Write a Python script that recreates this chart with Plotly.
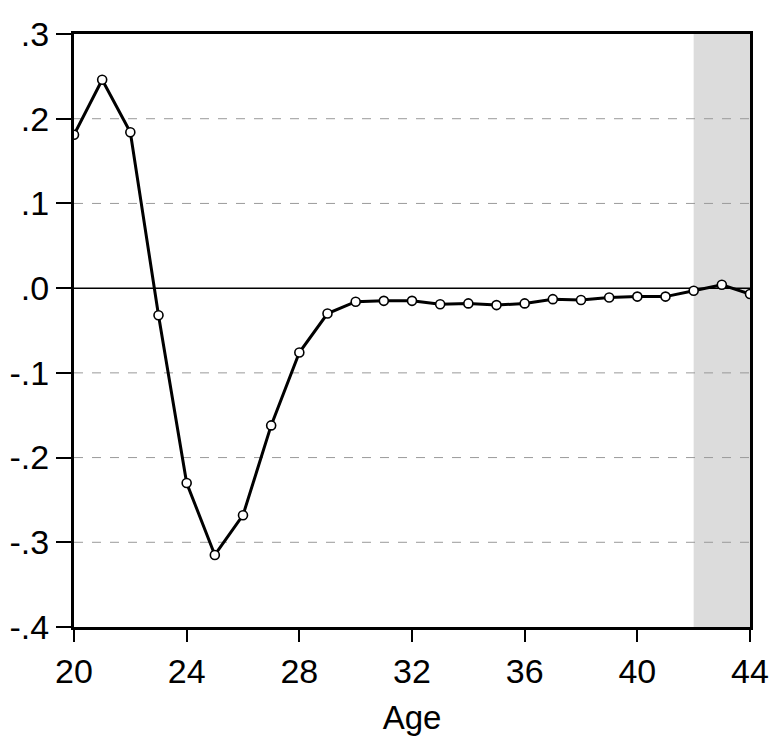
import plotly.graph_objects as go

ages = list(range(20, 45))
values = [0.181, 0.246, 0.184, -0.032, -0.230, -0.315, -0.268, -0.162, -0.076, -0.030,
          -0.016, -0.015, -0.015, -0.019, -0.018, -0.020, -0.018, -0.013, -0.014, -0.011,
          -0.010, -0.010, -0.003, 0.004, -0.007]
shade_range = [42, 44]
y_tickvals = [0.3, 0.2, 0.1, 0.0, -0.1, -0.2, -0.3, -0.4]
y_ticktext = [".3", ".2", ".1", ".0", "-.1", "-.2", "-.3", "-.4"]
x_tickvals = [20, 24, 28, 32, 36, 40, 44]
grid_vals = [0.2, 0.1, -0.1, -0.2, -0.3]

fig = go.Figure()

shapes = [dict(type="rect", xref="x", yref="y", x0=shade_range[0], x1=shade_range[1],
               y0=-0.4, y1=0.3, fillcolor="#dcdcdc", line=dict(width=0), layer="below")]
for g in grid_vals:
    shapes.append(dict(type="line", xref="x", yref="y", x0=20, x1=44, y0=g, y1=g,
                       line=dict(color="#9a9a9a", width=1, dash="dash"), layer="below"))
shapes.append(dict(type="line", xref="x", yref="y", x0=20, x1=44, y0=0, y1=0,
                   line=dict(color="black", width=1.5), layer="below"))

fig.add_trace(go.Scatter(
    x=ages, y=values, mode="lines+markers",
    line=dict(color="black", width=3),
    marker=dict(symbol="circle", size=9, color="white", line=dict(color="black", width=1.6)),
    showlegend=False, cliponaxis=True,
))

fig.update_layout(
    width=772, height=736,
    margin=dict(l=74, r=22, t=34, b=109),
    paper_bgcolor="white", plot_bgcolor="white",
    font=dict(family="Liberation Sans, Arial, sans-serif", color="black", size=34),
    shapes=shapes,
    xaxis=dict(
        range=[20, 44], tickvals=x_tickvals, ticks="outside", ticklen=12, tickwidth=1.5,
        tickcolor="black", showline=True, linecolor="black", linewidth=3, mirror=True,
        showgrid=False, zeroline=False, tickfont=dict(size=34), automargin=False,
        title=dict(text="Age", font=dict(size=33), standoff=18),
    ),
    yaxis=dict(
        range=[-0.4, 0.3], tickvals=y_tickvals, ticktext=y_ticktext, ticks="outside",
        ticklen=15, tickwidth=1.5, tickcolor="black", showline=True, linecolor="black",
        linewidth=3, mirror=True, showgrid=False, zeroline=False, tickfont=dict(size=34),
        automargin=False,
    ),
)

fig.write_html("out.html", config={"displayModeBar": False},
               post_script="document.body.style.margin='0';document.body.style.overflow='hidden';")
